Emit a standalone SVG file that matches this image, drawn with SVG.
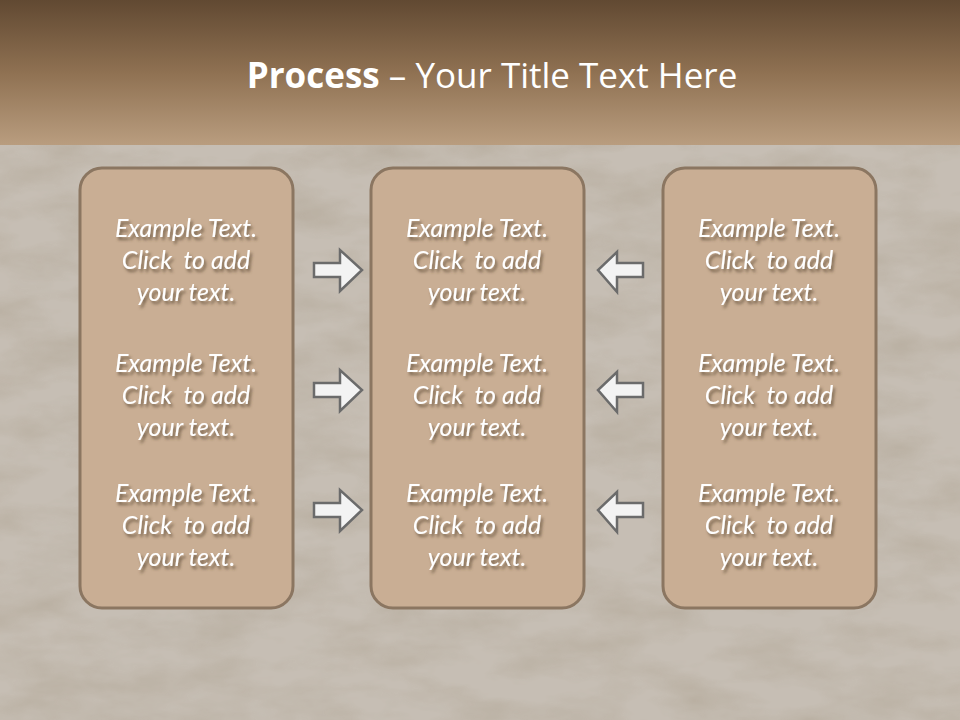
<svg xmlns="http://www.w3.org/2000/svg" width="960" height="720" viewBox="0 0 960 720">
<defs>
<linearGradient id="hdr" x1="0" y1="0" x2="0" y2="1">
<stop offset="0" stop-color="#614932"/>
<stop offset="0.5" stop-color="#8f7152"/>
<stop offset="1" stop-color="#b99d7f"/>
</linearGradient>
<filter id="noise" x="0" y="0" width="100%" height="100%">
<feTurbulence type="fractalNoise" baseFrequency="0.012 0.03" numOctaves="4" seed="7" result="t"/>
<feColorMatrix in="t" type="matrix" values="0 0 0 0 0.42  0 0 0 0 0.36  0 0 0 0 0.28  0 0 0 1.4 -0.5"/>
</filter>
<filter id="sh" x="-20%" y="-20%" width="140%" height="160%">
<feDropShadow dx="2" dy="3" stdDeviation="1.8" flood-color="#5a4632" flood-opacity="0.75"/>
</filter>
<path id="ra" d="M314,263 H340 V250 L362,270 L340,291 V277 H314 Z"/>
<path id="la" d="M643,263 H617 V252 L598,270 L617,292 V277 H643 Z"/>
</defs>
<style>
.box{fill:#c9ae94;stroke:#8b7661;stroke-width:3}
.t{font-family:Lato,"Open Sans",sans-serif;font-style:italic;font-size:25px;fill:#ffffff;text-anchor:middle}
.arr{fill:#f3f3f3;stroke:#6b6b6b;stroke-width:2.5;stroke-linejoin:miter}
.title{font-family:"Open Sans","Noto Sans",sans-serif;font-size:35px;fill:#ffffff;text-anchor:middle}
</style>
<rect width="960" height="720" fill="#c6beb4"/>
<rect y="145" width="960" height="575" filter="url(#noise)" opacity="0.65"/>
<rect width="960" height="145" fill="url(#hdr)"/>
<text id="title" class="title" x="492" y="88"><tspan font-weight="bold">Process</tspan> – Your Title Text Here</text>
<g id="connectors">
<use href="#ra" class="arr"/>
<use href="#ra" class="arr" y="120"/>
<use href="#ra" class="arr" y="240"/>
<use href="#la" class="arr"/>
<use href="#la" class="arr" y="120"/>
<use href="#la" class="arr" y="240"/>
</g>
<g id="box1">
<rect class="box" x="80" y="168" width="213" height="440" rx="22"/>
<g class="t" filter="url(#sh)">
<text x="186" y="237">Example Text.</text><text x="186" y="269">Click&#160; to add</text><text x="186" y="301">your text.</text>
<text x="186" y="372">Example Text.</text><text x="186" y="404">Click&#160; to add</text><text x="186" y="436">your text.</text>
<text x="186" y="502">Example Text.</text><text x="186" y="534">Click&#160; to add</text><text x="186" y="566">your text.</text>
</g>
</g>
<g id="box2">
<rect class="box" x="371" y="168" width="213" height="440" rx="22"/>
<g class="t" filter="url(#sh)">
<text x="477" y="237">Example Text.</text><text x="477" y="269">Click&#160; to add</text><text x="477" y="301">your text.</text>
<text x="477" y="372">Example Text.</text><text x="477" y="404">Click&#160; to add</text><text x="477" y="436">your text.</text>
<text x="477" y="502">Example Text.</text><text x="477" y="534">Click&#160; to add</text><text x="477" y="566">your text.</text>
</g>
</g>
<g id="box3">
<rect class="box" x="663" y="168" width="213" height="440" rx="22"/>
<g class="t" filter="url(#sh)">
<text x="769" y="237">Example Text.</text><text x="769" y="269">Click&#160; to add</text><text x="769" y="301">your text.</text>
<text x="769" y="372">Example Text.</text><text x="769" y="404">Click&#160; to add</text><text x="769" y="436">your text.</text>
<text x="769" y="502">Example Text.</text><text x="769" y="534">Click&#160; to add</text><text x="769" y="566">your text.</text>
</g>
</g>
</svg>
